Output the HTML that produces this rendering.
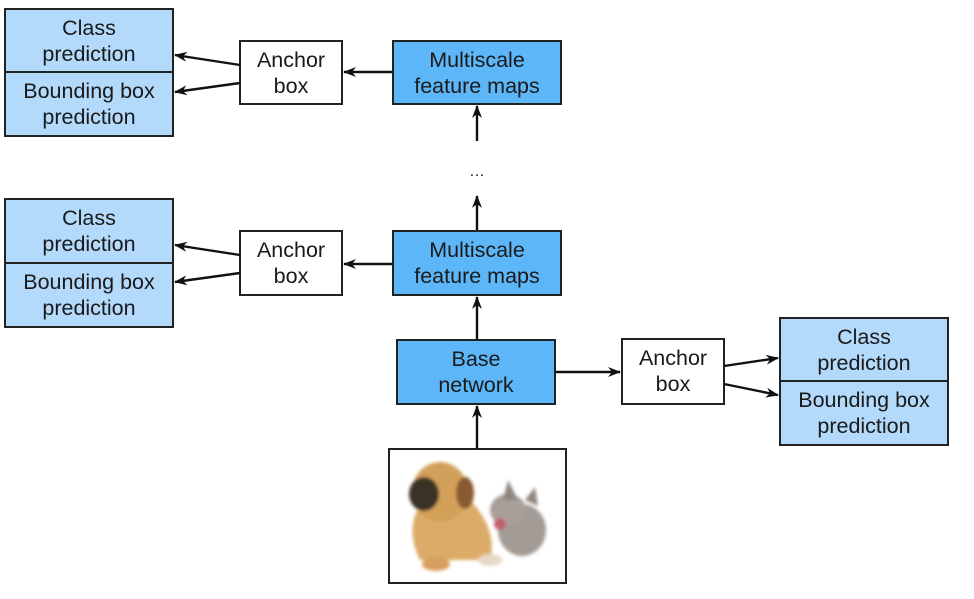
<!DOCTYPE html>
<html><head><meta charset="utf-8"><style>
html,body{margin:0;padding:0;background:#fff;}
svg text{font-family:"Liberation Sans",sans-serif;font-size:21.5px;fill:#1a1a1a;text-anchor:middle;}
</style></head><body>
<svg width="974" height="594" viewBox="0 0 974 594" xmlns="http://www.w3.org/2000/svg">
<defs>
<marker id="a" markerWidth="13" markerHeight="10" refX="12" refY="5" orient="auto" markerUnits="userSpaceOnUse">
<path d="M0,0 L13,5 L0,10 L4,5 Z" fill="#111"/></marker>
<filter id="bl"><feGaussianBlur stdDeviation="1.5"/></filter>
</defs>
<g stroke="#222" stroke-width="2">
<rect x="5" y="9" width="168" height="127" fill="#b3d9fb"/>
<line x1="5" y1="72" x2="173" y2="72"/>
<rect x="240" y="41" width="102" height="63" fill="#fff"/>
<rect x="393" y="41" width="168" height="63" fill="#5db6f8"/>
<rect x="5" y="199" width="168" height="128" fill="#b3d9fb"/>
<line x1="5" y1="263" x2="173" y2="263"/>
<rect x="240" y="231" width="102" height="64" fill="#fff"/>
<rect x="393" y="231" width="168" height="64" fill="#5db6f8"/>
<rect x="397" y="340" width="158" height="64" fill="#5db6f8"/>
<rect x="622" y="339" width="102" height="65" fill="#fff"/>
<rect x="780" y="318" width="168" height="127" fill="#b3d9fb"/>
<line x1="780" y1="381" x2="948" y2="381"/>
<rect x="389" y="449" width="177" height="134" fill="#fff"/>
</g>
<g stroke="#111" stroke-width="2.4" fill="none" marker-end="url(#a)">
<line x1="240" y1="65" x2="175" y2="55"/>
<line x1="240" y1="83" x2="175" y2="92"/>
<line x1="393" y1="72" x2="344" y2="72"/>
<line x1="477" y1="141" x2="477" y2="106"/>
<line x1="477" y1="230" x2="477" y2="196"/>
<line x1="240" y1="255" x2="175" y2="245"/>
<line x1="240" y1="273" x2="175" y2="282"/>
<line x1="393" y1="264" x2="344" y2="264"/>
<line x1="477" y1="340" x2="477" y2="297"/>
<line x1="555" y1="372" x2="620" y2="372"/>
<line x1="724" y1="366" x2="778" y2="358"/>
<line x1="724" y1="384" x2="778" y2="395"/>
<line x1="477" y1="449" x2="477" y2="406"/>
</g>
<text x="477" y="176" style="font-size:16px">…</text>
<text x="89" y="35">Class</text><text x="89" y="61">prediction</text>
<text x="89" y="98">Bounding box</text><text x="89" y="124">prediction</text>
<text x="291" y="67">Anchor</text><text x="291" y="93">box</text>
<text x="477" y="67">Multiscale</text><text x="477" y="93">feature maps</text>
<text x="89" y="225">Class</text><text x="89" y="251">prediction</text>
<text x="89" y="289">Bounding box</text><text x="89" y="315">prediction</text>
<text x="291" y="257">Anchor</text><text x="291" y="283">box</text>
<text x="477" y="257">Multiscale</text><text x="477" y="283">feature maps</text>
<text x="476" y="366">Base</text><text x="476" y="392">network</text>
<text x="673" y="365">Anchor</text><text x="673" y="391">box</text>
<text x="864" y="344">Class</text><text x="864" y="370">prediction</text>
<text x="864" y="407">Bounding box</text><text x="864" y="433">prediction</text>
<g filter="url(#bl)">
<path d="M420 560 Q405 530 420 505 L470 500 Q498 530 490 560 Z" fill="#dcab68"/>
<ellipse cx="440" cy="492" rx="28" ry="30" fill="#d3a05a"/>
<ellipse cx="424" cy="494" rx="15" ry="17" fill="#3b3027"/>
<ellipse cx="465" cy="493" rx="9" ry="16" fill="#8a5a30"/>
<ellipse cx="436" cy="564" rx="14" ry="7" fill="#d8a060"/>
<ellipse cx="490" cy="560" rx="12" ry="6" fill="#e8d8c8"/>
<ellipse cx="522" cy="530" rx="24" ry="26" fill="#a39b95"/>
<ellipse cx="508" cy="510" rx="18" ry="16" fill="#a89f99"/>
<ellipse cx="500" cy="524" rx="6" ry="6" fill="#c46070"/>
<path d="M503 500 L508 480 L518 500 Z" fill="#8f8680"/>
<path d="M525 500 L535 487 L538 506 Z" fill="#8f8680"/>
</g>
</svg>
</body></html>
